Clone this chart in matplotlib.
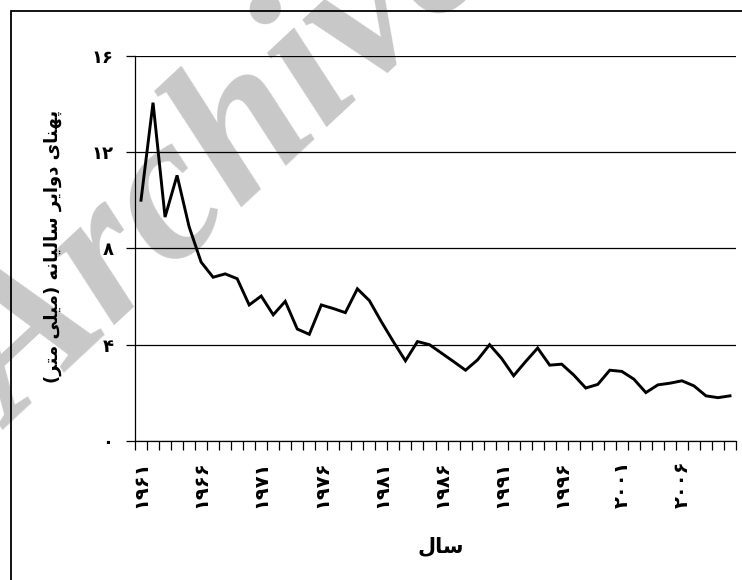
import matplotlib
matplotlib.use("Agg")
import matplotlib.pyplot as plt
from matplotlib.patches import Rectangle
import numpy as np

# ---- data ----
years = list(range(1961, 2011))
ring_width = [10.0, 14.05, 9.3, 11.03, 8.9, 7.43, 6.8, 6.94, 6.74, 5.65,
              6.02, 5.24, 5.8, 4.65, 4.43, 5.65, 5.5, 5.33, 6.32, 5.83,
              4.95, 4.12, 3.33, 4.13, 4.0, 3.65, 3.3, 2.94, 3.37, 4.0,
              3.43, 2.71, 3.3, 3.86, 3.15, 3.19, 2.74, 2.2, 2.35, 2.94,
              2.89, 2.57, 2.01, 2.33, 2.4, 2.5, 2.29, 1.875, 1.8, 1.875]
x_label_years = [1961, 1966, 1971, 1976, 1981, 1986, 1991, 1996, 2001, 2006]
x_tick_labels = ['۱۹۶۱', '۱۹۶۶', '۱۹۷۱', '۱۹۷۶', '۱۹۸۱', '۱۹۸۶', '۱۹۹۱', '۱۹۹۶', '۲۰۰۱', '۲۰۰۶']
y_ticks = [0, 4, 8, 12, 16]
y_tick_labels = ['۰', '۴', '۸', '۱۲', '۱۶']

# Persian labels, pre-shaped (presentation forms, visual order)
x_title = "\uFEDD\uFE8E\uFEB3"  # سال
y_title = ("(" + "\uFEAE\uFE98\uFEE3" + " " + "\uFBFD\uFEE0\uFBFF\uFEE3" + ")" + " "
           + "\uFEEA\uFEE7\uFE8E\uFBFF\uFEDF\uFE8E\uFEB3" + " "
           + "\uFEAE\uFBFE\uFE8D\uFEED\uFEA9" + " "
           + "\uFBFC\uFE8E\uFEE8\uFEEC\uFB58")  # پهنای دوایر سالیانه (میلی متر)

W, H = 742, 580
fig = plt.figure(figsize=(W / 100, H / 100), dpi=100)
fig.patch.set_facecolor('white')

# watermark
fig.text(13 / W, 1 - 430 / H, 'Archive', fontsize=150, family='Liberation Serif',
         style='italic', weight='bold', color='#c8c8c8', rotation=43,
         rotation_mode='anchor', ha='left', va='baseline', zorder=-10)

# outer frame
fig.add_artist(Rectangle((11 / W, -0.1), 1.2, 1 - 10.7 / H + 0.1,
                         transform=fig.transFigure, fill=False, lw=1.3,
                         ec='black', zorder=5))

ax = fig.add_axes([135 / W, 1 - 441 / H, 601 / W, (441 - 55.7) / H])
ax.patch.set_alpha(0)

xpos = np.arange(len(years))
ax.plot(xpos, ring_width, color='black', lw=2.1, zorder=3, solid_joinstyle='miter')

ax.set_xlim(-0.5, len(years) - 0.5)
ax.set_ylim(0, 16)

ax.set_yticks(y_ticks)
ax.set_yticklabels(y_tick_labels, fontsize=13, fontweight='bold', family='DejaVu Sans')
ax.yaxis.grid(True, color='black', lw=0.9)
ax.set_axisbelow(True)
ax.tick_params(axis='y', direction='out', length=6.5, width=0.9, pad=9)

ax.set_xticks(np.arange(-0.5, len(years), 1.0))
ax.set_xticklabels([])
ax.tick_params(axis='x', which='major', direction='out', length=6.5, width=0.9)
lab_pos = [years.index(y) for y in x_label_years]
ax.set_xticks(lab_pos, minor=True)
ax.set_xticklabels(x_tick_labels, minor=True, rotation=90, fontsize=14,
                   fontweight='bold', family='DejaVu Sans')
ax.tick_params(axis='x', which='minor', length=0, pad=14)

for s in ['top', 'right']:
    ax.spines[s].set_visible(False)
for s in ['left', 'bottom']:
    ax.spines[s].set_color('black')
    ax.spines[s].set_linewidth(0.9)

fig.text(441 / W, 1 - 546 / H, x_title, fontsize=15, fontweight='bold',
         family='DejaVu Sans', ha='center', va='center')
fig.text(53 / W, 1 - 246 / H, y_title, fontsize=13, fontweight='bold',
         family='DejaVu Sans', rotation=90, ha='center', va='center')

fig.savefig('out.png', dpi=100)
